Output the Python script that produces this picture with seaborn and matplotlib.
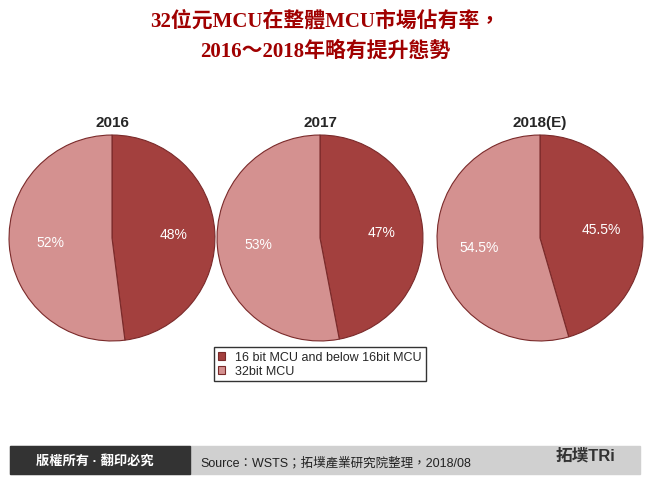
import matplotlib
matplotlib.use("Agg")
import matplotlib.pyplot as plt
import seaborn as sns
from matplotlib.patches import Rectangle

sns.set_theme(style="white")
plt.rcParams['font.family'] = ['Liberation Sans', 'Noto Sans CJK TC', 'DejaVu Sans']

years = ["2016", "2017", "2018(E)"]
series = ["16 bit MCU and below 16bit MCU", "32bit MCU"]
share16 = [48, 47, 45.5]
share32 = [52, 53, 54.5]
labels16 = ["48%", "47%", "45.5%"]
labels32 = ["52%", "53%", "54.5%"]
colors = ["#A3403E", "#D49190"]

fig = plt.figure(figsize=(6.5, 4.85), dpi=100)
fig.patch.set_facecolor("white")

fig.text(0.5, 0.955, "32位元MCU在整體MCU市場佔有率，", ha="center", va="center",
         fontsize=15, fontweight="bold", color="#A00000",
         family=['Liberation Serif', 'Noto Sans CJK TC'])
fig.text(0.5, 0.893, "2016～2018年略有提升態勢", ha="center", va="center",
         fontsize=15, fontweight="bold", color="#A00000",
         family=['Liberation Serif', 'Noto Sans CJK TC'])

centers = [112, 320, 540]
r = 104
for i, cx in enumerate(centers):
    ax = fig.add_axes([(cx - r) / 650, (485 - 239 - r) / 485, 2 * r / 650, 2 * r / 485])
    wedges, texts = ax.pie([share16[i], share32[i]], colors=colors, startangle=90,
                           counterclock=False, labels=[labels16[i], labels32[i]],
                           labeldistance=0.6,
                           wedgeprops=dict(edgecolor="#7a2a2a", linewidth=0.8),
                           textprops=dict(color="white", fontsize=10))
    for t in texts:
        t.set_ha("center")
    ax.set_xlim(-1.01, 1.01)
    ax.set_ylim(-1.01, 1.01)
    ax.set_aspect("auto")
    ax.set_title(years[i], fontsize=11, fontweight="bold", pad=6)
    if i == 1:
        leg = ax.legend(wedges, series, loc="upper center", bbox_to_anchor=(0.5, 0.005),
                        fontsize=9, frameon=True, fancybox=False, edgecolor="black",
                        handlelength=0.6, handleheight=0.6, borderpad=0.3, labelspacing=0.2)

# footer
fax = fig.add_axes([0, 0, 1, 1], zorder=-1)
fax.set_xlim(0, 650); fax.set_ylim(485, 0); fax.axis("off")
fax.add_patch(Rectangle((10, 447), 630, 28, color="#d0d0d0"))
fax.add_patch(Rectangle((10, 447), 180, 28, color="#333333"))
fig.text(95 / 650, 1 - 461 / 485, "版權所有 · 翻印必究", ha="center", va="center",
         color="white", fontsize=9.5, fontweight="bold")
fig.text(200 / 650, 1 - 463 / 485, "Source：WSTS；拓墣產業研究院整理，2018/08", ha="left",
         va="center", color="#222222", fontsize=9)
fig.text(585 / 650, 1 - 456 / 485, "拓墣TRi", ha="center", va="center", color="#333333",
         fontsize=12, fontweight="bold")

fig.savefig("out.png", dpi=100)
